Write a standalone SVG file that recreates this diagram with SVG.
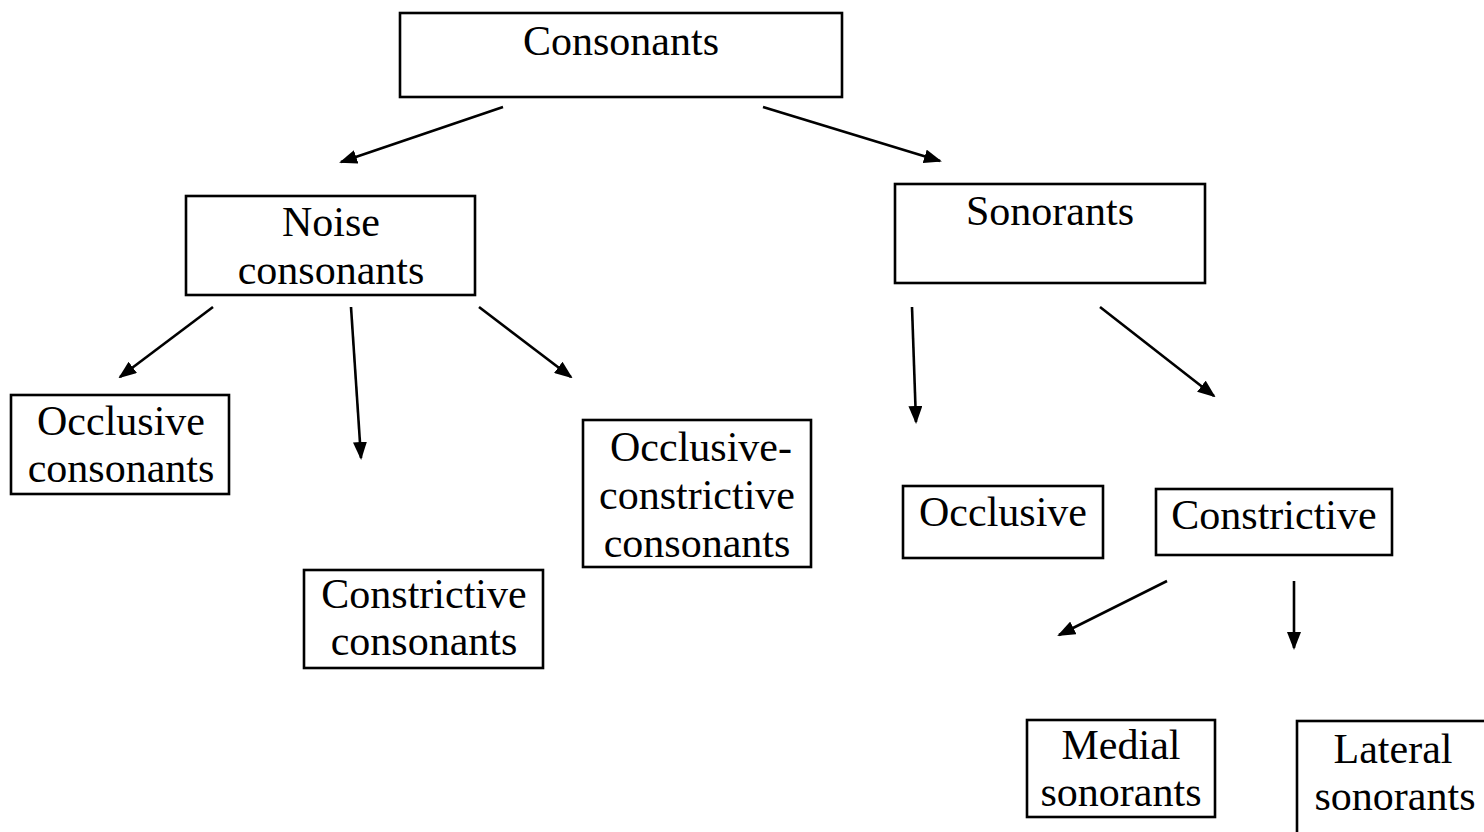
<svg xmlns="http://www.w3.org/2000/svg" width="1484" height="832" viewBox="0 0 1484 832">
<style>
.box{fill:#fff;stroke:#000;stroke-width:2.6}
.t{font-family:'Liberation Serif','Times New Roman',serif;font-size:42px;fill:#000;text-anchor:middle}
.c{stroke:#000;stroke-width:2.6;fill:none;marker-end:url(#ah)}
</style>
<defs>
<marker id="ah" viewBox="0 0 18 14" refX="16" refY="7" markerWidth="18" markerHeight="14" markerUnits="userSpaceOnUse" orient="auto">
<path d="M0,0 L18,7 L0,14 z" fill="#000"/>
</marker>
</defs>
<rect width="1484" height="832" fill="#fff"/>
<g id="n-consonants"><rect class="box" x="400" y="13" width="442" height="84"/><text class="t" x="621" y="55">Consonants</text></g>
<g id="n-noise"><rect class="box" x="186" y="196" width="289" height="99"/><text class="t" x="331" y="236">Noise</text><text class="t" x="331" y="284">consonants</text></g>
<g id="n-sonorants"><rect class="box" x="895" y="184" width="310" height="99"/><text class="t" x="1050" y="225">Sonorants</text></g>
<g id="n-occlusive-consonants"><rect class="box" x="11" y="395" width="218" height="99"/><text class="t" x="121" y="435">Occlusive</text><text class="t" x="121" y="482">consonants</text></g>
<g id="n-constrictive-consonants"><rect class="box" x="304" y="570" width="239" height="98"/><text class="t" x="424" y="608">Constrictive</text><text class="t" x="424" y="655">consonants</text></g>
<g id="n-occlusive-constrictive"><rect class="box" x="583" y="420" width="228" height="147"/><text class="t" x="701" y="461">Occlusive-</text><text class="t" x="697" y="509">constrictive</text><text class="t" x="697" y="557">consonants</text></g>
<g id="n-occlusive"><rect class="box" x="903" y="486" width="200" height="72"/><text class="t" x="1003" y="526">Occlusive</text></g>
<g id="n-constrictive"><rect class="box" x="1156" y="489" width="236" height="66"/><text class="t" x="1274" y="529">Constrictive</text></g>
<g id="n-medial"><rect class="box" x="1027" y="720" width="188" height="97"/><text class="t" x="1121" y="759">Medial</text><text class="t" x="1121" y="806">sonorants</text></g>
<g id="n-lateral"><rect class="box" x="1297" y="721" width="200" height="130"/><text class="t" x="1393" y="763">Lateral</text><text class="t" x="1395" y="810">sonorants</text></g>
<g id="connectors">
<line class="c" x1="503" y1="107" x2="341" y2="162"/>
<line class="c" x1="763" y1="107" x2="940" y2="161"/>
<line class="c" x1="213" y1="307" x2="120" y2="377"/>
<line class="c" x1="351" y1="307" x2="361" y2="458"/>
<line class="c" x1="479" y1="307" x2="571" y2="377"/>
<line class="c" x1="912" y1="307" x2="916" y2="422"/>
<line class="c" x1="1100" y1="307" x2="1214" y2="396"/>
<line class="c" x1="1167" y1="581" x2="1059" y2="635"/>
<line class="c" x1="1294" y1="581" x2="1294" y2="648"/>
</g>
</svg>
